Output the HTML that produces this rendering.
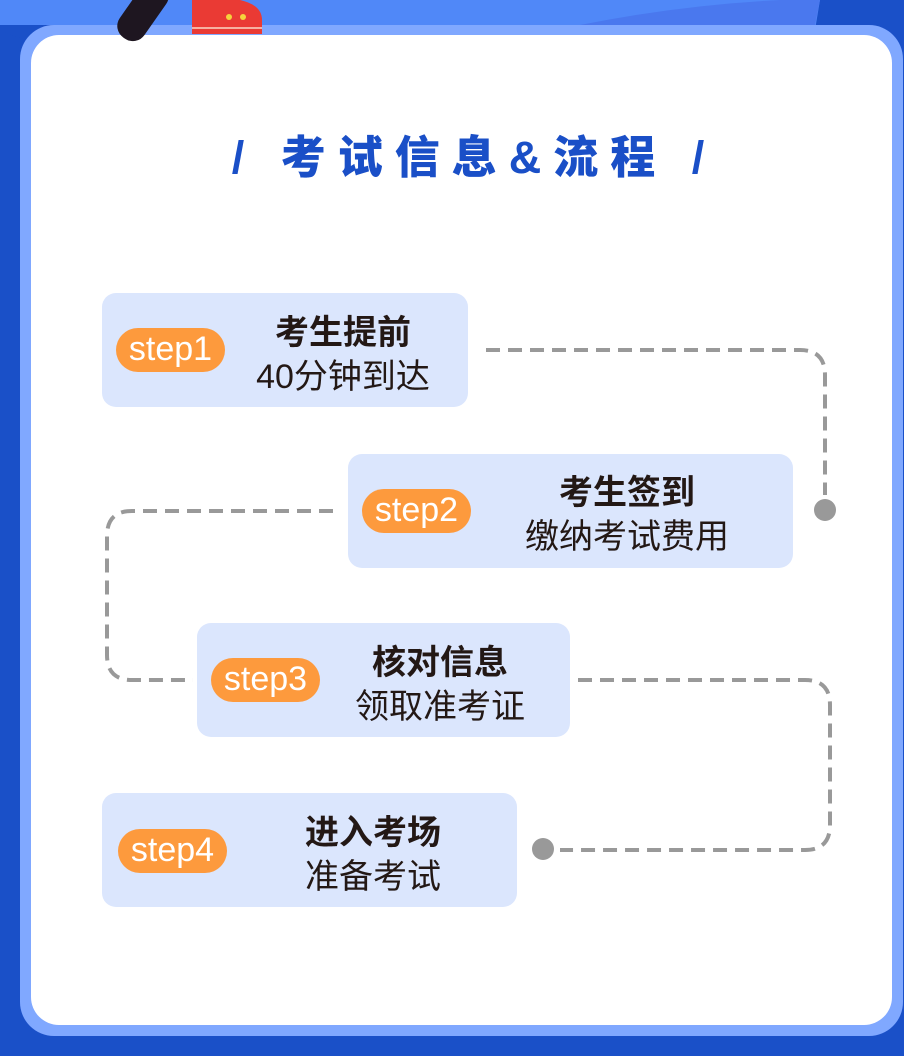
<!DOCTYPE html>
<html><head><meta charset="utf-8"><style>
*{margin:0;padding:0;box-sizing:border-box}
body{width:904px;height:1056px;background:#1a50c8;position:relative;overflow:hidden;font-family:"Liberation Sans","Noto Sans CJK SC",sans-serif}
.abs{position:absolute}
.frame{left:20px;top:25px;width:883px;height:1011px;background:#80a8ff;border-radius:34px}
.panel{left:31px;top:35px;width:861px;height:990px;background:#fff;border-radius:28px}
.title{left:22px;width:904px;top:126px;text-align:center;color:#1a4fc7;font-weight:900;font-size:45px;letter-spacing:12px;line-height:64px}
.box{background:#dbe6fd;border-radius:14px}
.badge{background:#fd9a3d;color:#fff;border-radius:22px;width:109px;height:44px;font-size:34px;line-height:42px;text-align:center}
.t{text-align:center;color:#231815;font-size:34px;line-height:44px}
.t b{display:block}
</style></head><body>
<svg class="abs" style="left:0;top:0" width="904" height="60">
<path d="M0 0 H904 V25 H0 Z" fill="#5088f8"/>
<path d="M0 30 Q30 45 60 40 L40 60 L0 60Z" fill="#1a50c8"/>
<path d="M820 0 L904 0 L904 30 L815 30 Z" fill="#1a50c8"/>
<path d="M580 25 Q680 5 780 0 L820 0 L815 25 Z" fill="#4a78ee"/>
</svg>
<div class="abs frame"></div>
<div class="abs panel"></div>
<svg class="abs" style="left:0;top:0" width="904" height="60">
<rect x="128" y="-22" width="30" height="66" rx="14" fill="#1e1620" transform="rotate(35 143 11)"/>
<path d="M192 0 H240 Q262 5 262 20 V34 H192 Z" fill="#ea3a34"/>
<rect x="192" y="27" width="70" height="2" fill="#f6b0a0"/>
<circle cx="229" cy="17" r="3" fill="#f5d33c"/><circle cx="243" cy="17" r="3" fill="#f5d33c"/>
</svg>
<div class="abs title">/ 考试信息&amp;流程 /</div>

<svg class="abs" style="left:0;top:0" width="904" height="1056">
<g fill="none" stroke="#999" stroke-width="4" stroke-dasharray="14 8">
<path d="M486 350 H800 Q825 350 825 375 V495"/>
<path d="M333 511 H132 Q107 511 107 536 V655 Q107 680 132 680 H193"/>
<path d="M578 680 H805 Q830 680 830 705 V825 Q830 850 805 850 H560"/>
</g>
<circle cx="825" cy="510" r="11" fill="#999"/>
<circle cx="543" cy="849" r="11" fill="#999"/>
</svg>

<div class="abs box" style="left:102px;top:293px;width:366px;height:114px"></div>
<div class="abs badge" style="left:116px;top:328px">step1</div>
<div class="abs t" style="left:223px;top:311px;width:240px"><b>考生提前</b>40分钟到达</div>

<div class="abs box" style="left:348px;top:454px;width:445px;height:114px"></div>
<div class="abs badge" style="left:362px;top:489px">step2</div>
<div class="abs t" style="left:487px;top:471px;width:280px"><b>考生签到</b>缴纳考试费用</div>

<div class="abs box" style="left:197px;top:623px;width:373px;height:114px"></div>
<div class="abs badge" style="left:211px;top:658px">step3</div>
<div class="abs t" style="left:320px;top:641px;width:240px"><b>核对信息</b>领取准考证</div>

<div class="abs box" style="left:102px;top:793px;width:415px;height:114px"></div>
<div class="abs badge" style="left:118px;top:829px">step4</div>
<div class="abs t" style="left:253px;top:811px;width:240px"><b>进入考场</b>准备考试</div>
</body></html>
